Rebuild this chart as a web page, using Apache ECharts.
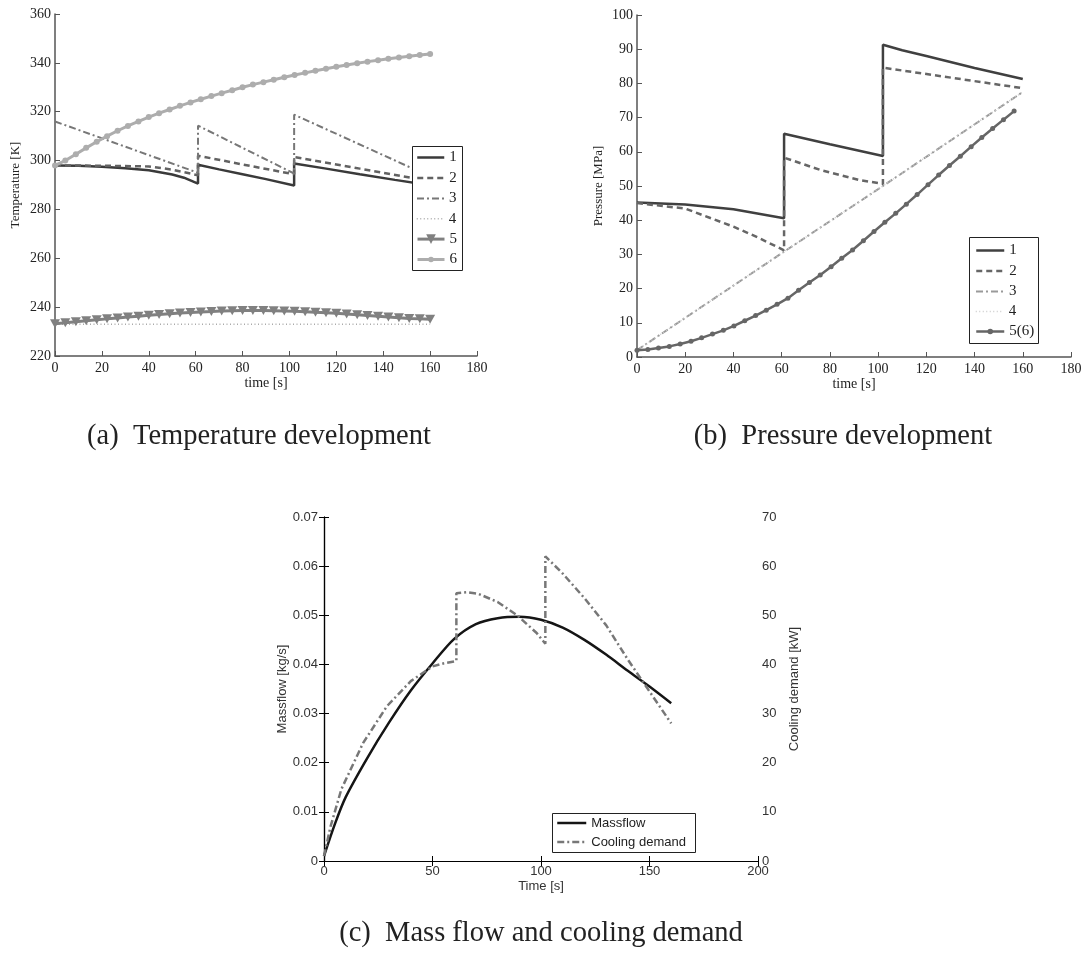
<!DOCTYPE html>
<html><head><meta charset="utf-8">
<script src="https://cdn.jsdelivr.net/npm/echarts@6/dist/echarts.min.js"></script>
<style>html,body{margin:0;padding:0;background:#fff}#c{width:1089px;height:954px}</style>
</head><body><div id="c"></div>
<script>
// ---------- Panel (a): Temperature ----------
var tA1 = [0,10,20,30,40,50,55,61, 61,70,80,90,102, 102,115,130,145,160];
var yA1 = [298,297.9,297.5,296.9,296.0,294.3,293.0,290.6, 298.3,296.4,294.4,292.4,289.8, 298.8,296.8,294.4,292.1,289.9];
var tA2 = [0,20,40,50,61, 61,80,102, 102,130,160];
var yA2 = [298,297.9,297.6,296.3,294, 302,298.4,294.4, 301.5,296.7,291.6];
var tA3 = [0,61, 61,102, 102,160];
var yA3 = [316,295, 314.3,294.7, 318.8,293.5];
var tA4 = [0,160];
var yA4 = [233,233];
var tA56 = [0,4.4,8.9,13.3,17.8,22.2,26.7,31.1,35.6,40,44.4,48.9,53.3,57.8,62.2,66.7,71.1,75.6,80,84.4,88.9,93.3,97.8,102.2,106.7,111.1,115.6,120,124.4,128.9,133.3,137.8,142.2,146.7,151.1,155.6,160];
var yA5 = [233.2,233.6,234.0,234.4,234.8,235.2,235.6,236.0,236.3,236.7,237.0,237.3,237.6,237.8,238.0,238.2,238.4,238.5,238.6,238.6,238.6,238.5,238.4,238.3,238.1,237.9,237.7,237.5,237.2,236.9,236.6,236.3,236.0,235.7,235.4,235.2,235.0];
var yA6 = [298.0,300.0,302.6,305.2,307.7,310.0,312.2,314.2,316.0,317.8,319.4,320.9,322.4,323.8,325.1,326.4,327.6,328.8,330.0,331.1,332.1,333.1,334.1,335.0,335.9,336.8,337.6,338.4,339.1,339.8,340.5,341.1,341.7,342.2,342.7,343.2,343.6];

// ---------- Panel (b): Pressure ----------
var tB1 = [0,20,40,61, 61,80,102, 102,110,120,140,160];
var yB1 = [45.2,44.6,43.2,40.6, 65.3,62.2,58.8, 91.3,89.7,88.0,84.5,81.3];
var tB2 = [0,20,40,50,61, 61,76,92,102, 102,160];
var yB2 = [45,43.4,38.1,35,31.2, 58.3,54.7,51.8,50.6, 84.6,78.6];
var tB3 = [0,61,102,160];
var yB3 = [2,30.8,50,77.5];
var tB4 = [0,61,102,160];
var yB4 = [2,30.8,50,77.5];
var tB5 = [0,4.5,8.9,13.4,17.9,22.4,26.8,31.3,35.8,40.2,44.7,49.2,53.6,58.1,62.6,67,71.5,76,80.5,84.9,89.4,93.9,98.3,102.8,107.3,111.7,116.2,120.7,125.1,129.6,134.1,138.6,143,147.5,152,156.4];
var yB5 = [2.0,2.2,2.6,3.1,3.8,4.6,5.6,6.7,7.8,9.1,10.6,12.1,13.7,15.4,17.2,19.5,21.8,24.0,26.4,28.9,31.3,34.0,36.7,39.4,42.0,44.7,47.5,50.4,53.2,56.0,58.7,61.5,64.2,66.8,69.4,71.9];

// ---------- Panel (c): Mass flow / cooling demand ----------
var tC1 = [0,5,10,20,30,40,50,60,70,80,90,100,110,120,130,140,150,160];
var massflow = [0.001,0.0075,0.013,0.021,0.0282,0.0347,0.0402,0.0452,0.0482,0.0494,0.0497,0.0491,0.0475,0.0450,0.0420,0.0387,0.0355,0.0321];
var tC2 = [0,3,8,18,29,40,50,55,61, 61,66,71,80,89,98,102, 102,110,120,130,140,150,160];
var cooling = [1,7,14.6,24,31.5,36.6,39.6,40.2,40.7, 54.5,54.7,54.4,52.7,50,46.4,44.2, 62,58.5,53.5,48,41,34.5,28];

var captions = ['(a)  Temperature development', '(b)  Pressure development', '(c)  Mass flow and cooling demand'];

function zip(t, y) { return t.map(function (x, i) { return [x, y[i]]; }); }

var SERIF = '"Liberation Serif", "Times New Roman", serif';
var SANS = '"Liberation Sans", Arial, sans-serif';

function serifAxisX(grid, max) {
  return {
    type: 'value', gridIndex: grid, min: 0, max: max, interval: 20,
    name: 'time [s]', nameLocation: 'middle', nameGap: 20,
    nameTextStyle: { fontFamily: SERIF, fontSize: 14, color: '#222' },
    axisLine: { show: true, lineStyle: { color: '#555', width: 1.5 } },
    axisTick: { show: true, inside: true, length: 5, lineStyle: { color: '#555' } },
    axisLabel: { fontFamily: SERIF, fontSize: 14, color: '#222', margin: 5 },
    splitLine: { show: false }
  };
}
function serifAxisY(grid, min, max, interval, name, gap) {
  return {
    type: 'value', gridIndex: grid, min: min, max: max, interval: interval,
    name: name, nameLocation: 'middle', nameGap: gap, nameRotate: 90,
    nameTextStyle: { fontFamily: SERIF, fontSize: 13, color: '#222' },
    axisLine: { show: true, lineStyle: { color: '#555', width: 1.5 } },
    axisTick: { show: true, inside: true, length: 5, lineStyle: { color: '#555' } },
    axisLabel: { fontFamily: SERIF, fontSize: 14, color: '#222', margin: 4 },
    splitLine: { show: false }
  };
}
function line(name, xi, yi, data, color, width, type, extra) {
  var s = {
    type: 'line', name: name, xAxisIndex: xi, yAxisIndex: yi, data: data,
    symbol: 'none', showSymbol: true, smooth: false,
    lineStyle: { color: color, width: width, type: type, cap: 'butt' },
    itemStyle: { color: color },
    emphasis: { disabled: true }, silent: true, z: 2
  };
  if (extra) for (var k in extra) s[k] = extra[k];
  return s;
}

var DASH = [6, 4];
var DASHDOT = [7, 3, 2, 3];
var DOT = [1, 2.5];

var series = [
  line('a1', 0, 0, zip(tA1, yA1), '#3a3a3a', 2.5, 'solid'),
  line('a2', 0, 0, zip(tA2, yA2), '#626262', 2.5, DASH),
  line('a3', 0, 0, zip(tA3, yA3), '#777777', 2, DASHDOT),
  line('a4', 0, 0, zip(tA4, yA4), '#aaaaaa', 1.5, DOT),
  line('a5', 0, 0, zip(tA56, yA5), '#808080', 3, 'solid', { symbol: 'triangle', symbolRotate: 180, symbolSize: [10, 9] }),
  line('a6', 0, 0, zip(tA56, yA6), '#adadad', 3, 'solid', { symbol: 'circle', symbolSize: 6 }),

  line('b1', 1, 1, zip(tB1, yB1), '#404040', 2.5, 'solid'),
  line('b2', 1, 1, zip(tB2, yB2), '#666666', 2.5, DASH),
  line('b3', 1, 1, zip(tB3, yB3), '#9a9a9a', 2, DASHDOT),
  line('b4', 1, 1, zip(tB4, yB4), '#cccccc', 1.5, DOT),
  line('b5(6)', 1, 1, zip(tB5, yB5), '#666666', 2.5, 'solid', { symbol: 'circle', symbolSize: 5 }),

  line('cMassflow', 2, 2, zip(tC1, massflow), '#151515', 2.5, 'solid', { smooth: 0.3 }),
  line('cCooling demand', 2, 3, zip(tC2, cooling), '#777777', 2.5, DASHDOT)
];

// one legend component per entry, so each icon can have its own marker size
function legendItem(name, left, cy, iw, ih, font, size, hideSymbol) {
  var item = hideSymbol
    ? { name: name, itemStyle: { opacity: 0, color: 'rgba(0,0,0,0)', borderWidth: 0 } }
    : { name: name };
  return {
    show: true, orient: 'vertical', left: left, top: cy - 7, padding: 0,
    itemWidth: iw, itemHeight: ih, data: [item], selectedMode: false,
    backgroundColor: 'transparent', borderWidth: 0,
    lineStyle: { width: 'inherit' },
    formatter: function (n) { return n.slice(1); },
    textStyle: { fontFamily: font, fontSize: size, lineHeight: 14, color: '#222' },
    z: 10
  };
}

var legends = [
  legendItem('a1', 416, 157, 27, 14, SERIF, 15, true),
  legendItem('a2', 416, 177.5, 27, 14, SERIF, 15, true),
  legendItem('a3', 416, 198, 27, 14, SERIF, 15, true),
  legendItem('a4', 416, 218.3, 27, 14, SERIF, 15, true),
  legendItem('a5', 416, 238.6, 27, 12, SERIF, 15, false),
  legendItem('a6', 416, 259, 27, 7, SERIF, 15, false),

  legendItem('b1', 975, 250, 28, 14, SERIF, 15, true),
  legendItem('b2', 975, 270.5, 28, 14, SERIF, 15, true),
  legendItem('b3', 975, 291, 28, 14, SERIF, 15, true),
  legendItem('b4', 975, 311, 28, 14, SERIF, 15, true),
  legendItem('b5(6)', 975, 331, 28, 7, SERIF, 15, false),

  legendItem('cMassflow', 556, 823, 29, 14, SANS, 13, true),
  legendItem('cCooling demand', 556, 842, 29, 14, SANS, 13, true)
];

function box(x, y, w, h) {
  return { type: 'rect', z: 5, silent: true, shape: { x: x + 0.5, y: y + 0.5, width: w, height: h },
           style: { fill: '#fff', stroke: '#222', lineWidth: 1 } };
}
function caption(text, x, y) {
  return { type: 'text', x: x, y: y, z: 20, silent: true,
           style: { text: text, font: '28.5px ' + SERIF, fill: '#222', align: 'center', verticalAlign: 'middle', textAlign: 'center', textVerticalAlign: 'middle' } };
}

var option = {
  animation: false,
  backgroundColor: '#fff',
  grid: [
    { left: 55, top: 14, width: 422, height: 342 },
    { left: 637, top: 15, width: 434, height: 342 },
    { left: 324, top: 517, width: 434, height: 344 }
  ],
  xAxis: [
    serifAxisX(0, 180),
    serifAxisX(1, 180),
    {
      type: 'value', gridIndex: 2, min: 0, max: 200, interval: 50, position: 'bottom',
      name: 'Time [s]', nameLocation: 'middle', nameGap: 19,
      nameTextStyle: { fontFamily: SANS, fontSize: 13, color: '#333' },
      axisLine: { show: true, lineStyle: { color: '#000', width: 1.2 } },
      axisTick: { show: true, inside: true, length: 5, lineStyle: { color: '#000' } },
      axisLabel: { fontFamily: SANS, fontSize: 13, color: '#333', margin: 4 },
      splitLine: { show: false }
    },
    {
      type: 'value', gridIndex: 2, min: 0, max: 200, interval: 50, position: 'top',
      axisLine: { show: true, lineStyle: { color: '#000', width: 1.2 } },
      axisTick: { show: true, inside: true, length: 5, lineStyle: { color: '#000' } },
      axisLabel: { show: false }, splitLine: { show: false }
    }
  ],
  yAxis: [
    serifAxisY(0, 220, 360, 20, 'Temperature [K]', 33),
    serifAxisY(1, 0, 100, 10, 'Pressure [MPa]', 32),
    {
      type: 'value', gridIndex: 2, min: 0, max: 0.07, interval: 0.01, position: 'left',
      name: 'Massflow [kg/s]', nameLocation: 'middle', nameGap: 34, nameRotate: 90,
      nameTextStyle: { fontFamily: SANS, fontSize: 13, color: '#333' },
      axisLine: { show: true, lineStyle: { color: '#000', width: 1.2 } },
      axisTick: { show: true, inside: true, length: 5, lineStyle: { color: '#000' } },
      axisLabel: { fontFamily: SANS, fontSize: 13, color: '#333', margin: 6 },
      splitLine: { show: false }
    },
    {
      type: 'value', gridIndex: 2, min: 0, max: 70, interval: 10, position: 'right',
      name: 'Cooling demand [kW]', nameLocation: 'middle', nameGap: 30, nameRotate: 90,
      nameTextStyle: { fontFamily: SANS, fontSize: 13, color: '#333' },
      axisLine: { show: true, lineStyle: { color: '#000', width: 1.2 } },
      axisTick: { show: true, inside: true, length: 5, lineStyle: { color: '#000' } },
      axisLabel: { fontFamily: SANS, fontSize: 13, color: '#333', margin: 4 },
      splitLine: { show: false }
    }
  ],
  legend: legends,
  series: series,
  graphic: [
    box(412, 146, 50, 124),
    box(969, 237, 69, 106),
    box(552, 813, 143, 39),
    caption(captions[0], 259, 437),
    caption(captions[1], 843, 437),
    caption(captions[2], 541, 934)
  ]
};

var chart = echarts.init(document.getElementById('c'), null, { renderer: 'canvas' });
chart.setOption(option);
</script></body></html>
